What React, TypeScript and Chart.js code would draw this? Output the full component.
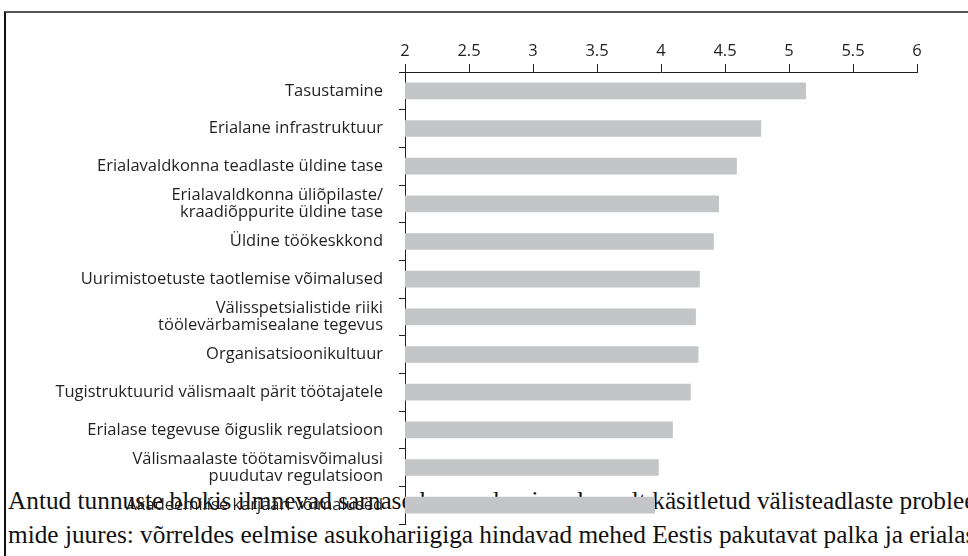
import React, { useEffect, useRef } from "react";
import { Chart, registerables } from "chart.js";

Chart.register(...registerables);

const categories: (string | string[])[] = [
  "Tasustamine",
  "Erialane infrastruktuur",
  "Erialavaldkonna teadlaste üldine tase",
  ["Erialavaldkonna üliõpilaste/", "kraadiõppurite üldine tase"],
  "Üldine töökeskkond",
  "Uurimistoetuste taotlemise võimalused",
  ["Välisspetsialistide riiki", "töölevärbamisealane tegevus"],
  "Organisatsioonikultuur",
  "Tugistruktuurid välismaalt pärit töötajatele",
  "Erialase tegevuse õiguslik regulatsioon",
  ["Välismaalaste töötamisvõimalusi", "puudutav regulatsioon"],
  "Akadeemilise karjääri võimalused",
];

const values: number[] = [5.13, 4.78, 4.59, 4.45, 4.41, 4.3, 4.27, 4.29, 4.23, 4.09, 3.98, 3.95];

const xMin = 2;
const xMax = 6;
const xStep = 0.5;

const paragraphLines: string[] = [
  "Antud tunnuste blokis ilmnevad sarnased seosed, mis eelnevalt käsitletud välisteadlaste problee-",
  "mide juures: võrreldes eelmise asukohariigiga hindavad mehed Eestis pakutavat palka ja erialast",
];

const INK = "#231f20";
const BAR = "#c4c5c7";
const FONT = "'Open Sans', sans-serif";

export default function App() {
  const canvasRef = useRef<HTMLCanvasElement | null>(null);

  useEffect(() => {
    const canvas = canvasRef.current;
    if (!canvas) return;
    const chart = new Chart(canvas, {
      type: "bar",
      data: {
        labels: categories,
        datasets: [
          {
            data: values,
            backgroundColor: BAR,
            borderWidth: 0,
            barThickness: 16,
          },
        ],
      },
      options: {
        indexAxis: "y",
        responsive: false,
        animation: false,
        layout: { padding: { top: 0, right: 51, bottom: 32, left: 0 } },
        plugins: { legend: { display: false }, tooltip: { enabled: false } },
        scales: {
          x: {
            position: "top",
            min: xMin,
            max: xMax,
            ticks: {
              stepSize: xStep,
              color: INK,
              font: { family: FONT, size: 16.5 },
              padding: 3,
              callback: (v: any) => String(Number(v)),
            },
            grid: { drawOnChartArea: false, tickLength: 8, color: INK, lineWidth: 1 },
            border: { color: INK, width: 1 },
            afterFit: (s: any) => {
              s.height = 72;
            },
          },
          y: {
            ticks: {
              color: INK,
              font: { family: FONT, size: 16.5, lineHeight: 1.02 },
              padding: 16,
              autoSkip: false,
            },
            grid: { drawOnChartArea: false, tickLength: 6, color: INK, lineWidth: 1, offset: true },
            border: { color: INK, width: 1 },
            afterFit: (s: any) => {
              s.width = 405;
            },
          },
        },
      },
    });
    return () => chart.destroy();
  }, []);

  return (
    <div style={{ position: "fixed", left: 0, top: 0, width: 968, height: 556, overflow: "hidden", background: "#fff" }}>
      <div
        style={{
          position: "absolute",
          left: 4,
          top: 11,
          width: 2000,
          height: 2000,
          borderTop: "2px solid #555",
          borderLeft: "2px solid #111",
        }}
      />
      <div
        style={{
          position: "absolute",
          left: 8,
          top: 483,
          fontFamily: "'Liberation Serif', serif",
          fontSize: 25.3,
          lineHeight: "34px",
          whiteSpace: "nowrap",
          color: "#111",
        }}
      >
        {paragraphLines.map((l, i) => (
          <div key={i}>{l}</div>
        ))}
      </div>
      <canvas
        ref={canvasRef}
        width={968}
        height={556}
        style={{ position: "absolute", left: 0, top: 0, width: 968, height: 556 }}
      />
    </div>
  );
}
